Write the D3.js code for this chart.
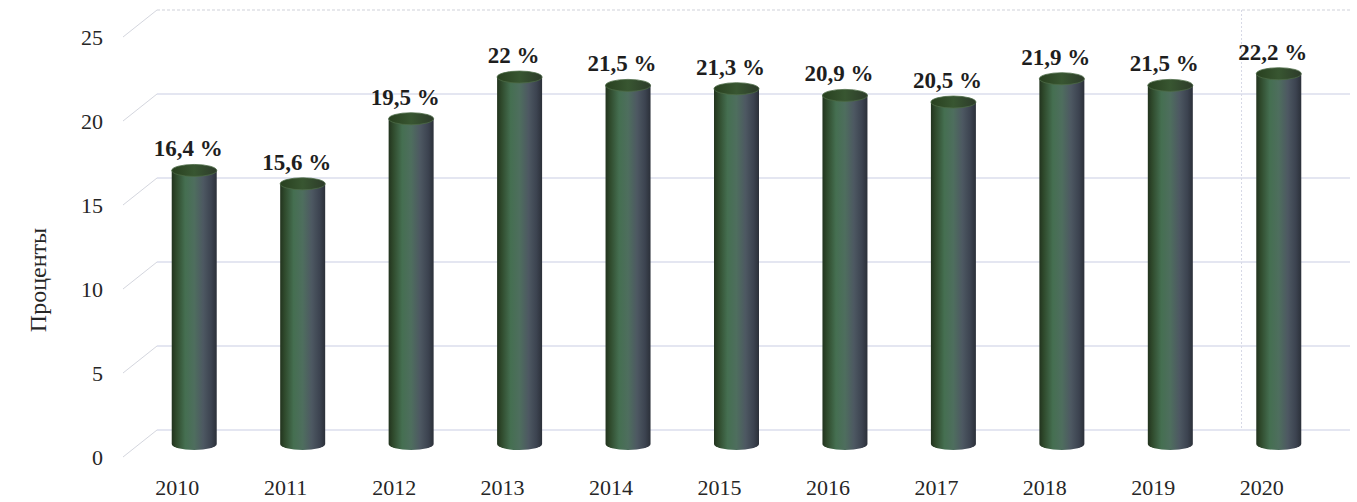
<!DOCTYPE html>
<html>
<head>
<meta charset="utf-8">
<script src="https://cdn.jsdelivr.net/npm/d3@7"></script>
<style>
  html, body { margin: 0; padding: 0; background: #fff; }
  svg { display: block; }
</style>
</head>
<body>
<svg id="chart" width="1357" height="502"></svg>
<script>
// Доля (в процентах) по годам
const years = ["2010", "2011", "2012", "2013", "2014", "2015", "2016", "2017", "2018", "2019", "2020"];
const values = [16.4, 15.6, 19.5, 22, 21.5, 21.3, 20.9, 20.5, 21.9, 21.5, 22.2];
const valueLabels = ["16,4 %", "15,6 %", "19,5 %", "22 %", "21,5 %", "21,3 %", "20,9 %", "20,5 %", "21,9 %", "21,5 %", "22,2 %"];
const yTicks = [0, 5, 10, 15, 20, 25];
const yTitle = "Проценты";

const svg = d3.select("#chart");
const serif = "Liberation Serif, Times New Roman, serif";

// Back wall of the pseudo-3D plot area
const x = d3.scaleBand().domain(years).range([157, 1350]).padding(0);
const y = d3.scaleLinear().domain([0, 25]).range([430, 10]);

// Depth offset from the back wall to the front edge of the floor
const depth = { dx: -34, dy: 27 };
const mid = { dx: -17, dy: 14 };

const defs = svg.append("defs");
const g = defs.append("linearGradient").attr("id", "cyl").attr("x1", "0").attr("x2", "1").attr("y1", "0").attr("y2", "0");
[
  [0.00, "#22331e"],
  [0.10, "#2f4a2c"],
  [0.30, "#456f51"],
  [0.50, "#4e6e5e"],
  [0.70, "#4d5862"],
  [0.88, "#3c4350"],
  [1.00, "#2b3039"]
].forEach(([o, c]) => g.append("stop").attr("offset", o).attr("stop-color", c));

const gt = defs.append("linearGradient").attr("id", "cylTop").attr("x1", "0").attr("x2", "1").attr("y1", "0").attr("y2", "0");
[
  [0.0, "#28401f"],
  [0.5, "#385631"],
  [1.0, "#2d3b2a"]
].forEach(([o, c]) => gt.append("stop").attr("offset", o).attr("stop-color", c));

// Horizontal gridlines on the back wall
const grid = svg.append("g");
grid.selectAll("line.h").data(yTicks).join("line")
  .attr("class", "h")
  .attr("x1", x.range()[0]).attr("x2", x.range()[1])
  .attr("y1", d => y(d)).attr("y2", d => y(d))
  .attr("stroke", d => d === 25 ? "#d0d2da" : "#c9cde4")
  .attr("stroke-width", 1.2)
  .attr("stroke-dasharray", d => d === 25 ? "3,2" : null);

// Slanted side-wall lines linking the value axis to the back wall
grid.selectAll("line.s").data(yTicks).join("line")
  .attr("class", "s")
  .attr("x1", x.range()[0] + depth.dx).attr("y1", d => y(d) + depth.dy)
  .attr("x2", x.range()[0]).attr("y2", d => y(d))
  .attr("stroke", "#d4d6de")
  .attr("stroke-width", 1);

// Faint category divider on the back wall
grid.append("line")
  .attr("x1", x(years[years.length - 1])).attr("x2", x(years[years.length - 1]))
  .attr("y1", y(25)).attr("y2", y(0))
  .attr("stroke", "#d6d8e6").attr("stroke-width", 1).attr("stroke-dasharray", "2,2");

// Value axis tick labels
svg.append("g").selectAll("text").data(yTicks).join("text")
  .attr("x", 103)
  .attr("y", d => y(d) + depth.dy)
  .attr("dy", "0.35em")
  .attr("text-anchor", "end")
  .attr("font-family", serif)
  .attr("font-size", 22)
  .attr("fill", "#262626")
  .text(d => d);

// Axis title
svg.append("text")
  .attr("transform", "translate(38,280) rotate(-90)")
  .attr("text-anchor", "middle")
  .attr("dy", "0.35em")
  .attr("font-family", serif)
  .attr("font-size", 24)
  .attr("fill", "#262626")
  .text(yTitle);

// Category labels along the front edge
svg.append("g").selectAll("text").data(years).join("text")
  .attr("x", d => x(d) + x.bandwidth() / 2 + depth.dx)
  .attr("y", 495)
  .attr("text-anchor", "middle")
  .attr("font-family", serif)
  .attr("font-size", 22)
  .attr("fill", "#262626")
  .text(d => d);

// Cylinders
const rx = 22.5, ry = 6;
const ys = d3.scaleLinear().domain([0, 25]).range([y(0) + mid.dy, y(25) + mid.dy + 3]);
const data = years.map((yr, i) => ({ yr, v: values[i], label: valueLabels[i] }));

const cyl = svg.append("g").selectAll("g").data(data).join("g")
  .attr("transform", d => `translate(${x(d.yr) + x.bandwidth() / 2 + mid.dx},0)`);

cyl.append("path")
  .attr("d", d => {
    const yb = ys(0), yt = ys(d.v);
    return `M${-rx},${yt} L${-rx},${yb} A${rx},${ry} 0 0 0 ${rx},${yb} L${rx},${yt} Z`;
  })
  .attr("fill", "url(#cyl)");

cyl.append("ellipse")
  .attr("cx", 0).attr("cy", d => ys(d.v))
  .attr("rx", rx).attr("ry", ry)
  .attr("fill", "url(#cylTop)")
  .attr("stroke", "#4b6a45").attr("stroke-width", 0.8);

// Value labels above each cylinder
cyl.append("text")
  .attr("x", -6)
  .attr("y", d => ys(d.v) - ry - 8)
  .attr("text-anchor", "middle")
  .attr("font-family", serif)
  .attr("font-weight", "bold")
  .attr("font-size", 23)
  .attr("fill", "#1e1e1e")
  .text(d => d.label);
</script>
</body>
</html>
